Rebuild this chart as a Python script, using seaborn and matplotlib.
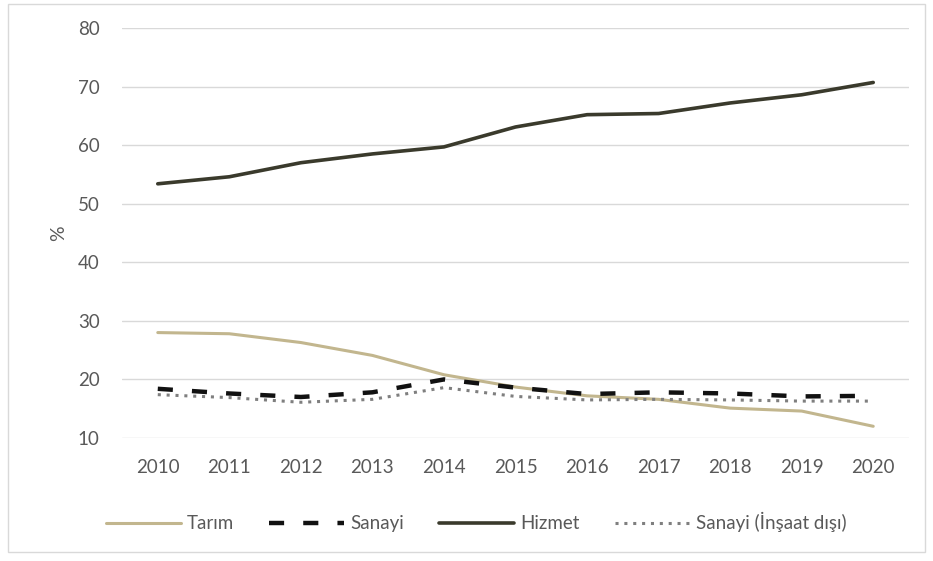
import matplotlib
matplotlib.use("Agg")
import matplotlib.pyplot as plt
import seaborn as sns
import pandas as pd
from matplotlib.patches import Rectangle

years = [2010, 2011, 2012, 2013, 2014, 2015, 2016, 2017, 2018, 2019, 2020]
tarim = [28.0, 27.8, 26.3, 24.1, 20.8, 18.7, 17.2, 16.6, 15.1, 14.6, 12.0]
sanayi = [18.4, 17.6, 17.0, 17.8, 20.0, 18.6, 17.5, 17.8, 17.6, 17.1, 17.2]
hizmet = [53.4, 54.6, 57.0, 58.5, 59.7, 63.1, 65.2, 65.4, 67.2, 68.6, 70.7]
sanayi_insaat_disi = [17.4, 16.9, 16.1, 16.6, 18.6, 17.1, 16.5, 16.6, 16.5, 16.3, 16.3]
series_names = ["Tarım", "Sanayi", "Hizmet", "Sanayi (İnşaat dışı)"]
y_ticks = [10, 20, 30, 40, 50, 60, 70, 80]

df = pd.DataFrame({"Yıl": years, series_names[0]: tarim, series_names[1]: sanayi,
                   series_names[2]: hizmet, series_names[3]: sanayi_insaat_disi})
long = df.melt(id_vars="Yıl", var_name="Seri", value_name="Değer")

sns.set_theme(style="white")
plt.rcParams["font.family"] = ["Lato", "DejaVu Sans"]

fig = plt.figure(figsize=(9.33, 5.61), dpi=100)
ax = fig.add_axes([122 / 933, 1 - 438 / 561, (909 - 122) / 933, (438 - 28) / 561])

styles = {
    "Tarım": dict(color="#C2B68E", lw=2.2, ls="-"),
    "Sanayi": dict(color="#111111", lw=3.2, ls=(0, (3.4, 4.3))),
    "Hizmet": dict(color="#3A3A2C", lw=2.6, ls="-"),
    "Sanayi (İnşaat dışı)": dict(color="#7F7F7F", lw=2.2, ls=(0, (1.0, 1.9))),
}
for name in series_names:
    st = styles[name]
    sns.lineplot(data=long[long["Seri"] == name], x="Yıl", y="Değer", ax=ax,
                 color=st["color"], linewidth=st["lw"], linestyle=st["ls"],
                 label=name, solid_capstyle="round", dash_capstyle="butt")

ax.set_xlim(years[0] - 0.5, years[-1] + 0.5)
ax.set_ylim(10, 80)
ax.set_yticks(y_ticks)
ax.set_xticks(years)
ax.set_xticklabels([str(y) for y in years])
ax.grid(axis="y", color="#D9D9D9", linewidth=1)
ax.grid(axis="x", visible=False)
for s in ax.spines.values():
    s.set_visible(False)
ax.tick_params(axis="both", colors="#595959", labelsize=13.5, length=0)
ax.tick_params(axis="x", pad=15)
ax.tick_params(axis="y", pad=16)
ax.set_xlabel("")
ax.set_ylabel("%", color="#595959", fontsize=14, labelpad=8)

handles, labels = ax.get_legend_handles_labels()
leg = fig.legend(handles, labels, loc="center", bbox_to_anchor=(476 / 933, 1 - 522 / 561),
                 ncol=4, frameon=False, fontsize=13.5, handlelength=4.0, columnspacing=1.9,
                 handletextpad=0.3)
for t in leg.get_texts():
    t.set_color("#595959")
ax.get_legend().remove()

fig.patches.append(Rectangle((8 / 933, 1 - 552 / 561), (925 - 8) / 933, (552 - 4) / 561,
                             transform=fig.transFigure, fill=False, edgecolor="#D9D9D9",
                             linewidth=1))

fig.savefig("out.png", dpi=100, facecolor="white")
